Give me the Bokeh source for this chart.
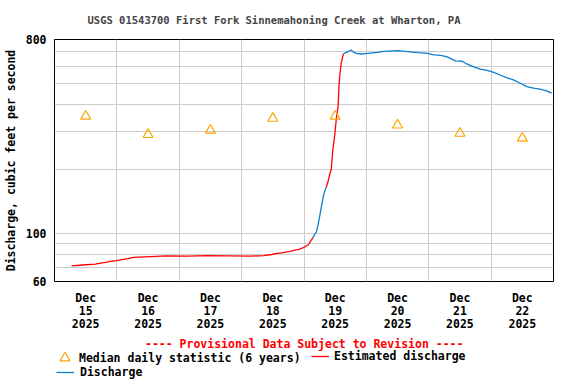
import pandas as pd
from bokeh.plotting import figure
from bokeh.layouts import column
from bokeh.models import FixedTicker, Label, Legend, LegendItem, Range1d
from bokeh.embed import file_html
from bokeh.resources import INLINE

# ---------------- data ----------------
title_text = "USGS 01543700 First Fork Sinnemahoning Creek at Wharton, PA"
y_axis_title = "Discharge, cubic feet per second"
provisional_text = "---- Provisional Data Subject to Revision ----"

day_labels = ["Dec\n15\n2025", "Dec\n16\n2025", "Dec\n17\n2025", "Dec\n18\n2025",
              "Dec\n19\n2025", "Dec\n20\n2025", "Dec\n21\n2025", "Dec\n22\n2025"]
day_noons = ["2025-12-15 12:00", "2025-12-16 12:00", "2025-12-17 12:00", "2025-12-18 12:00",
             "2025-12-19 12:00", "2025-12-20 12:00", "2025-12-21 12:00", "2025-12-22 12:00"]
day_midnights = ["2025-12-16", "2025-12-17", "2025-12-18", "2025-12-19",
                 "2025-12-20", "2025-12-21", "2025-12-22"]
x_start, x_end = "2025-12-15", "2025-12-23"

y_ticks = [60, 100, 800]
y_grid = [70, 80, 90, 100, 200, 300, 400, 500, 600, 700]

# median daily statistic (6 years), plotted at noon
median_values = [352, 289, 303, 344, 352, 320, 293, 278]

# estimated discharge, part 1
est1_time = ["2025-12-15 06:36", "2025-12-15 10:48", "2025-12-15 15:42", "2025-12-15 17:48",
             "2025-12-15 20:06", "2025-12-15 22:00", "2025-12-16 00:00", "2025-12-16 01:54",
             "2025-12-16 04:24", "2025-12-16 06:18", "2025-12-16 10:48", "2025-12-16 19:06",
             "2025-12-17 03:00", "2025-12-17 11:00", "2025-12-18 03:12", "2025-12-18 08:24",
             "2025-12-18 11:30", "2025-12-18 13:48", "2025-12-18 16:00", "2025-12-18 18:12",
             "2025-12-18 20:24", "2025-12-18 22:24", "2025-12-19 00:00", "2025-12-19 01:36",
             "2025-12-19 03:30"]
est1_value = [70.9, 71.6, 72.3, 73.1, 73.9, 74.7, 75.1, 75.9, 76.7, 77.6, 78.1, 79.0,
              78.7, 79.2, 78.7, 79.2, 80.1, 81.0, 81.8, 82.7, 83.9, 84.8, 86.6, 88.7, 96.3]

# discharge, part 1
dis1_time = ["2025-12-19 03:30", "2025-12-19 04:06", "2025-12-19 04:48", "2025-12-19 05:24",
             "2025-12-19 06:00", "2025-12-19 06:42", "2025-12-19 07:18", "2025-12-19 07:54",
             "2025-12-19 08:36"]
dis1_value = [96.3, 98.9, 102.5, 110, 120, 134, 146, 157, 165]

# estimated discharge, part 2
est2_time = ["2025-12-19 08:36", "2025-12-19 09:12", "2025-12-19 09:48", "2025-12-19 10:30",
             "2025-12-19 11:06", "2025-12-19 11:48", "2025-12-19 12:24", "2025-12-19 13:06",
             "2025-12-19 13:24", "2025-12-19 13:42", "2025-12-19 14:18", "2025-12-19 15:00",
             "2025-12-19 15:12"]
est2_value = [165, 174, 187, 200, 247, 285, 340, 391, 467, 537, 619, 675, 688]

# discharge, part 2
dis2_time = ["2025-12-19 15:12", "2025-12-19 15:36", "2025-12-19 16:54", "2025-12-19 18:06",
             "2025-12-19 18:48", "2025-12-19 20:06", "2025-12-19 22:00", "2025-12-20 00:30",
             "2025-12-20 04:24", "2025-12-20 05:36", "2025-12-20 12:00", "2025-12-20 15:48",
             "2025-12-20 19:42", "2025-12-20 23:30", "2025-12-21 02:00", "2025-12-21 04:36",
             "2025-12-21 07:06", "2025-12-21 10:18", "2025-12-21 12:54", "2025-12-21 14:48",
             "2025-12-21 17:18", "2025-12-21 19:54", "2025-12-21 22:30", "2025-12-22 01:00",
             "2025-12-22 03:30", "2025-12-22 06:06", "2025-12-22 08:36", "2025-12-22 11:12",
             "2025-12-22 13:48", "2025-12-22 16:18", "2025-12-22 18:48", "2025-12-22 21:24",
             "2025-12-22 23:18"]
dis2_value = [688, 690, 703, 715, 703, 690, 685, 690, 697, 703, 710, 703, 695, 690, 678, 675,
              664, 636, 634, 614, 597, 582, 575, 563, 547, 531, 519, 501, 483, 475, 470, 462, 451]

legend_labels = ["Median daily statistic (6 years)", "Estimated discharge", "Discharge"]

# ---------------- styles ----------------
FONT = "DejaVu Sans Mono"
RED = "#ff0000"
BLUE = "#0a7fcf"
ORANGE = "#ffa500"
GRID = "#cccccc"
FS = "11.5px"


def ms(s):
    return pd.Timestamp(s).value // 10**6


# ---------------- main plot ----------------
p = figure(width=576, height=334, x_axis_type="datetime", y_axis_type="log",
           x_range=Range1d(ms(x_start), ms(x_end)), y_range=Range1d(60, 800),
           output_backend="svg", toolbar_location=None,
           min_border_left=52, min_border_right=23, min_border_top=39, min_border_bottom=50)

p.background_fill_color = "white"
p.border_fill_color = "white"
p.outline_line_color = "black"
p.outline_line_width = 1

p.title.text = title_text
p.title.text_font = FONT
p.title.text_font_size = "10.5px"
p.title.text_font_style = "bold"
p.title.align = "left"
p.title.offset = 33
p.title.vertical_align = "top"
p.title.standoff = 24

noon_ticks = [ms(t) for t in day_noons]
p.xaxis.ticker = FixedTicker(ticks=noon_ticks)
p.xaxis.major_label_overrides = {t: lab for t, lab in zip(noon_ticks, day_labels)}
p.yaxis.ticker = FixedTicker(ticks=y_ticks)
p.yaxis.major_label_overrides = {v: str(v) for v in y_ticks}
for ax in (p.xaxis, p.yaxis):
    ax.axis_line_color = None
    ax.major_tick_line_color = None
    ax.minor_tick_line_color = None
    ax.major_tick_out = 0
    ax.major_tick_in = 0
    ax.major_label_text_font = FONT
    ax.major_label_text_font_size = FS
    ax.major_label_text_font_style = "bold"
    ax.major_label_text_color = "black"
p.xaxis.major_label_standoff = 9
p.xaxis.major_label_text_line_height = 0.96
p.yaxis.major_label_standoff = 8
p.yaxis.axis_label = y_axis_title
p.yaxis.axis_label_standoff = 5
p.yaxis.axis_label_text_font = FONT
p.yaxis.axis_label_text_font_size = FS
p.yaxis.axis_label_text_font_style = "bold"
p.yaxis.axis_label_text_color = "black"

p.xgrid.ticker = FixedTicker(ticks=[ms(t) for t in day_midnights])
p.ygrid.ticker = FixedTicker(ticks=y_grid)
for g in (p.xgrid, p.ygrid):
    g.grid_line_color = GRID
    g.grid_line_width = 1

p.line(pd.to_datetime(est1_time), est1_value, line_color=RED, line_width=1.3)
p.line(pd.to_datetime(dis1_time), dis1_value, line_color=BLUE, line_width=1.3)
p.line(pd.to_datetime(est2_time), est2_value, line_color=RED, line_width=1.3)
p.line(pd.to_datetime(dis2_time), dis2_value, line_color=BLUE, line_width=1.3)
p.scatter(pd.to_datetime(day_noons), median_values, marker="triangle", size=10,
          fill_color=None, line_color=ORANGE, line_width=1.2)

# ---------------- legend / note strip (frame aligned with the plot above) ----------------
q = figure(width=576, height=50, x_range=Range1d(0, 1), y_range=Range1d(0, 1),
           output_backend="svg", toolbar_location=None,
           min_border_left=52, min_border_right=23, min_border_top=0, min_border_bottom=0,
           x_axis_location=None, y_axis_location=None)
q.outline_line_color = None
q.background_fill_color = "white"
q.border_fill_color = "white"
q.xgrid.visible = False
q.ygrid.visible = False

# legend keys (placed outside the visible range of the strip)
key_med = q.scatter(x=[-5], y=[-5], marker="triangle", size=10, fill_color=None,
                    line_color=ORANGE, line_width=1.2)
key_est = q.line(x=[-5, -4], y=[-5, -5], line_color=RED, line_width=1.3)
key_dis = q.line(x=[-5, -4], y=[-5, -5], line_color=BLUE, line_width=1.3)

q.add_layout(Label(x=249.7, y=41, x_units="screen", y_units="screen", text=provisional_text,
                   text_align="center", text_baseline="middle",
                   text_font=FONT, text_font_size=FS, text_font_style="bold",
                   text_color=RED))


def make_legend(label, renderer, loc, gw, gh, standoff):
    lg = Legend(items=[LegendItem(label=label, renderers=[renderer])], location=loc,
                glyph_width=gw, glyph_height=gh, label_height=gh, label_standoff=standoff,
                padding=0, margin=0, spacing=0,
                border_line_color=None, background_fill_alpha=0,
                label_text_font=FONT, label_text_font_size=FS,
                label_text_font_style="bold", label_text_color="black")
    q.add_layout(lg, "center")


make_legend(legend_labels[0], key_med, (-2, 14), 25, 25, 2)
make_legend(legend_labels[1], key_est, (257, 21), 18, 14, 5)
make_legend(legend_labels[2], key_dis, (2, 5), 18, 14, 6)

layout = column(p, q, spacing=0)
open("out.html", "w").write(file_html(layout, INLINE))
